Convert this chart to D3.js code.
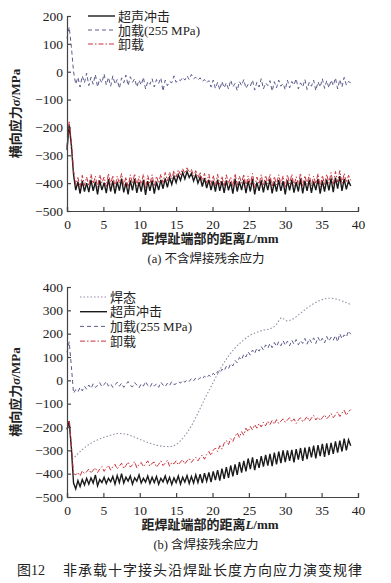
<!DOCTYPE html>
<html>
<head>
<meta charset="utf-8">
<script src="https://cdn.jsdelivr.net/npm/d3@7"></script>
<style>
  body { margin: 0; background: #fff; }
  text { font-family: "Liberation Serif", "Noto Sans CJK SC", serif; fill: #222; }
</style>
</head>
<body>
<div id="chart"></div>
<script>
// samples every 0.3 mm from 0 to 39 mm
var step = 0.3;

// (a) without welding residual stress
var a_uit = [
  -280, -190, -265, -370, -425, -395, -438, -392, -430, -400,
  -432, -388, -428, -395, -440, -390, -425, -398, -436, -386,
  -430, -392, -438, -395, -427, -384, -433, -398, -440, -390,
  -426, -385, -435, -396, -430, -388, -442, -393, -428, -390,
  -438, -395, -425, -388, -420, -383, -415, -380, -405, -375,
  -398, -370, -390, -362, -385, -358, -380, -365, -392, -370,
  -400, -378, -412, -382, -418, -388, -425, -392, -430, -387,
  -428, -393, -435, -390, -426, -396, -438, -385, -430, -394,
  -425, -388, -436, -392, -430, -385, -440, -397, -428, -390,
  -433, -392, -425, -386, -437, -395, -430, -389, -428, -393,
  -440, -390, -426, -387, -434, -396, -430, -384, -437, -392,
  -428, -388, -435, -394, -425, -385, -438, -391, -430, -387,
  -426, -383, -432, -380, -420, -375, -428, -385, -422, -392, -410
];
var a_unload = [
  -270, -180, -250, -355, -405, -380, -415, -372, -408, -378,
  -410, -368, -402, -375, -415, -370, -400, -378, -412, -365,
  -405, -372, -414, -375, -400, -365, -410, -378, -415, -370,
  -402, -366, -410, -376, -405, -368, -418, -373, -403, -370,
  -412, -375, -400, -368, -398, -362, -392, -360, -385, -355,
  -378, -352, -370, -348, -366, -345, -362, -350, -375, -355,
  -382, -360, -392, -365, -400, -368, -405, -372, -410, -368,
  -405, -375, -412, -370, -402, -378, -415, -366, -408, -375,
  -400, -368, -412, -374, -406, -365, -416, -378, -404, -370,
  -410, -372, -402, -368, -414, -376, -406, -370, -404, -374,
  -416, -370, -402, -368, -410, -377, -405, -364, -412, -373,
  -404, -369, -410, -375, -402, -366, -414, -372, -406, -368,
  -400, -362, -406, -358, -396, -355, -402, -365, -398, -372, -390
];
var a_load = [
  120, 160, 90, 0, -45, -20, -55, -15, -40, -5,
  -50, -20, -45, -10, -55, -25, -40, -8, -48, -20,
  -52, -15, -45, -28, -60, -22, -40, -12, -50, -18,
  -38, -25, -55, -30, -48, -20, -62, -35, -45, -25,
  -55, -28, -42, -22, -70, -30, -50, -35, -40, -15,
  -38, -28, -32, -20, -30, -15, -28, -10, -25, -20,
  -30, -22, -35, -28, -40, -32, -55, -30, -60, -38,
  -65, -35, -58, -40, -62, -30, -55, -42, -68, -35,
  -50, -28, -60, -45, -52, -30, -66, -38, -55, -25,
  -62, -40, -50, -32, -70, -36, -58, -30, -52, -42,
  -65, -30, -58, -35, -48, -25, -62, -40, -55, -28,
  -64, -38, -52, -30, -68, -36, -55, -25, -60, -32,
  -58, -30, -50, -22, -62, -28, -55, -20, -48, -35, -40
];

// (b) with welding residual stress
var b_welded_x = [0.7, 2, 3, 4, 5, 6, 7, 8, 9, 10, 11, 12, 13, 14, 15, 16, 17, 18, 19, 20,
  21, 22, 23, 24, 25, 26, 27, 28, 28.8, 29.5, 30.2, 31, 32, 33, 34, 35, 36, 37, 38, 39];
var b_welded = [-340, -300, -275, -258, -245, -235, -228, -230, -240, -253, -265, -275, -282, -284, -275, -245, -200, -140, -75, -15,
  45, 95, 135, 165, 190, 205, 215, 222, 240, 268, 255, 262, 285, 310, 330, 345, 352, 348, 338, 325];
var b_uit = [
  -210, -175, -290, -440, -465, -430, -455, -425, -448, -420,
  -445, -418, -440, -405, -452, -425, -438, -415, -442, -420,
  -435, -412, -445, -408, -438, -400, -440, -415, -432, -410,
  -445, -418, -432, -405, -440, -420, -436, -410, -442, -415,
  -438, -412, -445, -420, -435, -410, -440, -416, -446, -418,
  -438, -410, -444, -415, -436, -408, -442, -412, -440, -405,
  -438, -402, -440, -398, -432, -395, -436, -390, -428, -385,
  -430, -378, -422, -372, -418, -365, -412, -360, -405, -350,
  -395, -345, -390, -335, -380, -330, -385, -338, -375, -325,
  -370, -320, -365, -315, -368, -310, -360, -305, -355, -300,
  -350, -300, -345, -298, -352, -295, -340, -290, -345, -288,
  -338, -285, -330, -280, -335, -278, -325, -272, -328, -270,
  -320, -268, -315, -262, -310, -258, -305, -250, -300, -255, -280
];
var b_load = [
  120, 165, 60, -55, -40, -50, -30, -45, -25, -38,
  -20, -35, -15, -30, -22, -10, -28, -18, -5, -25,
  -15, -30, -20, -8, -25, -12, -30, -18, -5, -22,
  -28, -10, -20, -32, -15, -25, -5, -22, -30, -12,
  -25, -15, -30, -8, -20, -28, -12, -22, -5, -18,
  -15, -5, -12, 0, -8, 2, -5, 8, -2, 10,
  2, 12, 5, 18, 10, 22, 15, 30, 22, 38,
  30, 48, 40, 60, 50, 72, 62, 85, 75, 98,
  88, 112, 100, 122, 108, 130, 115, 138, 125, 145,
  130, 152, 138, 158, 140, 162, 145, 165, 148, 170,
  150, 168, 148, 172, 155, 175, 152, 170, 158, 180,
  155, 178, 162, 182, 158, 185, 165, 180, 160, 188,
  168, 185, 172, 192, 165, 200, 178, 195, 185, 212, 198
];
var b_unload = [
  -210, -170, -280, -400, -405, -395, -410, -388, -400, -392,
  -380, -398, -385, -375, -395, -380, -370, -390, -375, -365,
  -385, -370, -360, -380, -368, -355, -378, -365, -350, -372,
  -362, -348, -375, -360, -352, -370, -358, -345, -368, -355,
  -350, -372, -360, -345, -365, -355, -342, -368, -352, -358,
  -345, -362, -350, -340, -358, -345, -335, -352, -340, -330,
  -345, -330, -320, -338, -318, -305, -322, -300, -290, -305,
  -280, -295, -270, -258, -275, -250, -262, -240, -225, -245,
  -220, -235, -205, -220, -198, -212, -190, -205, -185, -200,
  -180, -195, -175, -190, -172, -188, -168, -185, -175, -165,
  -180, -170, -160, -178, -165, -185, -170, -160, -178, -168,
  -155, -175, -162, -150, -170, -158, -172, -160, -148, -165,
  -155, -142, -160, -148, -135, -155, -140, -128, -150, -135, -125
];

var x_ticks = [0, 5, 10, 15, 20, 25, 30, 35, 40];
var a_y_ticks = [-500, -400, -300, -200, -100, 0, 100, 200];
var b_y_ticks = [-500, -400, -300, -200, -100, 0, 100, 200, 300, 400];

var chart_width = 391;
var chart_height = 583;

var svg = d3.select('#chart')
  .append('svg')
  .attr('width', chart_width)
  .attr('height', chart_height);

var styles = {
  uit:    { color: '#1a1a1a', width: 1.4, dash: null },
  load:   { color: '#5b5b8c', width: 1, dash: '4,3' },
  unload: { color: '#c8323c', width: 1, dash: '5,2,1.5,2' },
  welded: { color: '#9a8aa6', width: 1.1, dash: '1.5,2' }
};

function sampled(vals) {
  return vals.map(function (v, i) { return [i * step, v]; });
}

function drawPanel(p) {
  var x_scale = d3.scaleLinear().domain([0, 40]).range([67, 358]);
  var y_scale = d3.scaleLinear().domain(p.y_domain).range([p.bottom, p.top]);
  var g = svg.append('g');

  var line = d3.line()
    .x(function (d) { return x_scale(d[0]); })
    .y(function (d) { return y_scale(d[1]); });

  p.series.forEach(function (s) {
    var st = styles[s.style];
    g.append('path')
      .datum(s.points)
      .attr('d', s.smooth ? line.curve(d3.curveMonotoneX)(s.points) : line.curve(d3.curveLinear)(s.points))
      .attr('fill', 'none')
      .attr('stroke', st.color)
      .attr('stroke-width', st.width)
      .attr('stroke-dasharray', st.dash);
  });

  // axes, ticks pointing inward
  var x_axis = d3.axisBottom(x_scale).tickValues(x_ticks).tickSizeInner(-4).tickSizeOuter(-4).tickPadding(8);
  var y_axis = d3.axisLeft(y_scale).tickValues(p.y_ticks).tickSizeInner(-4).tickSizeOuter(-4).tickPadding(4)
    .tickFormat(function (d) { return d < 0 ? '\u2212' + Math.abs(d) : d; });

  var gx = g.append('g').attr('transform', 'translate(0,' + p.bottom + ')').call(x_axis);
  var gy = g.append('g').attr('transform', 'translate(67,0)').call(y_axis);
  [gx, gy].forEach(function (a) {
    a.selectAll('path, line').attr('stroke', '#444').attr('stroke-width', 1.2);
    a.selectAll('text').style('font-size', '13.5px').style('font-family', '"Liberation Serif", serif').attr('fill', '#222');
  });

  // legend
  p.legend.forEach(function (l, i) {
    var st = styles[l.style];
    var ly = p.legend_y + i * p.legend_gap;
    g.append('line')
      .attr('x1', p.legend_x).attr('x2', p.legend_x + 27)
      .attr('y1', ly).attr('y2', ly)
      .attr('stroke', st.color)
      .attr('stroke-width', st.width)
      .attr('stroke-dasharray', st.dash);
    g.append('text')
      .attr('x', p.legend_x + 30).attr('y', ly)
      .attr('dy', '0.35em')
      .style('font-size', '13px')
      .text(l.label);
  });

  // y title
  var yt = g.append('text')
    .attr('transform', 'translate(20,' + (p.top + p.bottom) / 2 + ') rotate(-90)')
    .attr('text-anchor', 'middle')
    .style('font-size', '13px')
    .style('font-weight', 'bold');
  yt.append('tspan').text('横向应力');
  yt.append('tspan').style('font-style', 'italic').text('σ');
  yt.append('tspan').text('/MPa');

  // x title
  var xt = g.append('text')
    .attr('x', 210).attr('y', p.bottom + 32)
    .attr('text-anchor', 'middle')
    .style('font-size', '13px')
    .style('font-weight', 'bold');
  xt.append('tspan').text('距焊趾端部的距离');
  xt.append('tspan').style('font-style', 'italic').text('L');
  xt.append('tspan').text('/mm');

  g.append('text')
    .attr('x', 206).attr('y', p.bottom + 52)
    .attr('text-anchor', 'middle')
    .style('font-size', '12.5px')
    .text(p.caption);
}

drawPanel({
  top: 16, bottom: 211,
  y_domain: [-500, 200], y_ticks: a_y_ticks,
  series: [
    { style: 'load', points: sampled(a_load) },
    { style: 'uit', points: sampled(a_uit) },
    { style: 'unload', points: sampled(a_unload) }
  ],
  legend_x: 88, legend_y: 16, legend_gap: 14,
  legend: [
    { style: 'uit', label: '超声冲击' },
    { style: 'load', label: '加载(255 MPa)' },
    { style: 'unload', label: '卸载' }
  ],
  caption: '(a) 不含焊接残余应力'
});

drawPanel({
  top: 287, bottom: 497,
  y_domain: [-500, 400], y_ticks: b_y_ticks,
  series: [
    { style: 'welded', smooth: true, points: b_welded.map(function (v, i) { return [b_welded_x[i], v]; }) },
    { style: 'load', points: sampled(b_load) },
    { style: 'uit', points: sampled(b_uit) },
    { style: 'unload', points: sampled(b_unload) }
  ],
  legend_x: 80, legend_y: 297, legend_gap: 14.7,
  legend: [
    { style: 'welded', label: '焊态' },
    { style: 'uit', label: '超声冲击' },
    { style: 'load', label: '加载(255 MPa)' },
    { style: 'unload', label: '卸载' }
  ],
  caption: '(b) 含焊接残余应力'
});

svg.append('text')
  .attr('x', 17).attr('y', 575)
  .style('font-size', '14px')
  .text('图12');
svg.append('text')
  .attr('x', 63).attr('y', 575)
  .style('font-size', '14px')
  .style('letter-spacing', '1px')
  .text('非承载十字接头沿焊趾长度方向应力演变规律');
</script>
</body>
</html>
